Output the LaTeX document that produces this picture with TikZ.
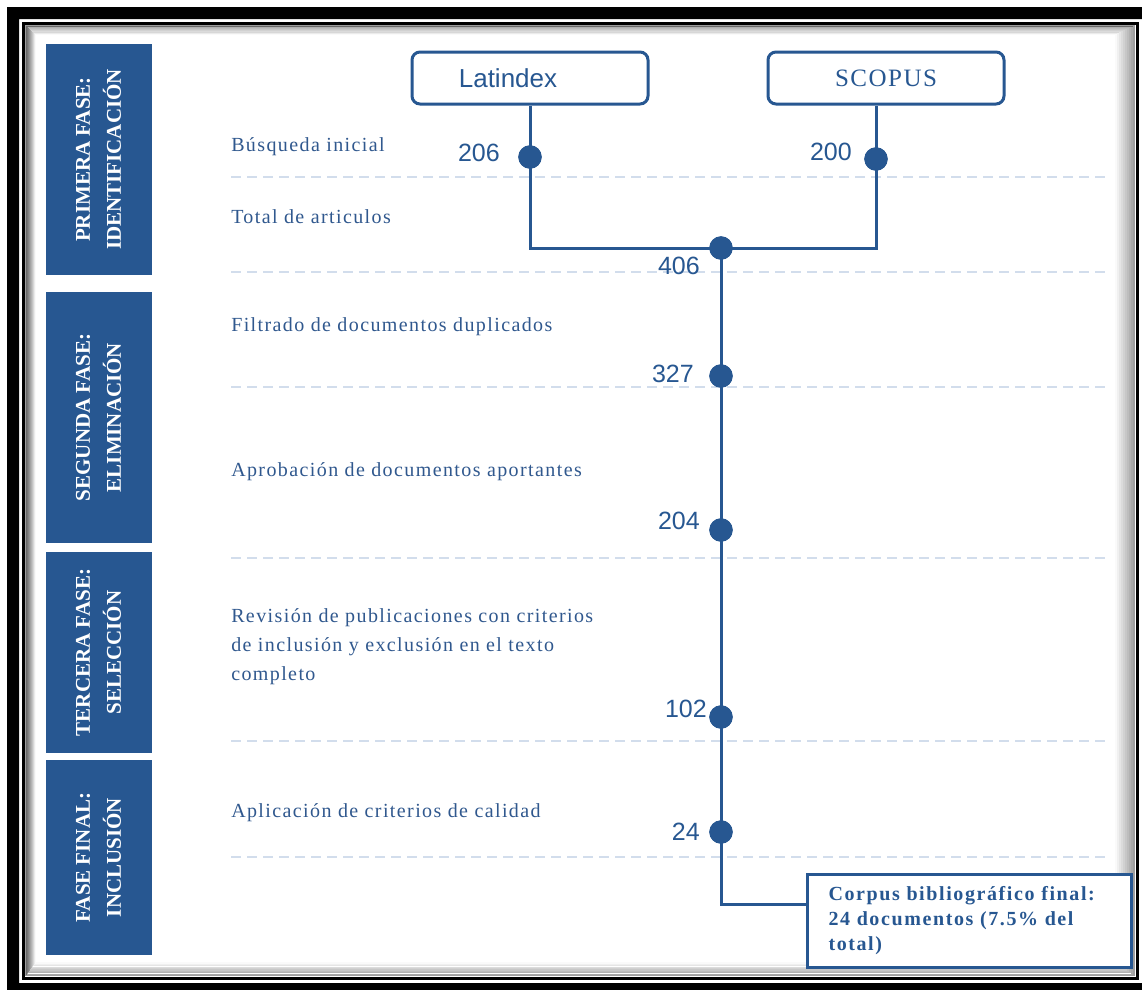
\documentclass[tikz,border=0pt]{standalone}
\usepackage{fontspec}
\setmainfont{Liberation Serif}
\newfontfamily\lsans{Liberation Sans}
\newfontfamily\spc[LetterSpace=7]{Liberation Serif}
\newfontfamily\spcb[LetterSpace=8]{Liberation Serif Bold}
\newfontfamily\spcs[LetterSpace=6]{Liberation Serif}
\definecolor{fblue}{RGB}{39,87,145}
\definecolor{tblue}{RGB}{48,88,142}
\definecolor{dgrey}{RGB}{210,221,236}
\begin{document}
\begin{tikzpicture}[x=0.75pt,y=-0.75pt,
  txt/.style={anchor=base west, inner sep=0, text=tblue, align=left,
    font=\spc\fontsize{15}{21.75}\selectfont},
  num/.style={anchor=east, inner sep=0, text=fblue,
    font=\lsans\fontsize{18.75}{20}\selectfont},
  dot/.style={circle, fill=fblue, inner sep=0, minimum size=17.5pt},
  conn/.style={draw=fblue, line width=2.25pt},
  src/.style={draw=fblue, line width=2.25pt, rounded corners=6pt, fill=white,
    minimum width=177pt, minimum height=39pt, inner sep=0},
  phasetxt/.style={rotate=90, align=center, text=white, inner sep=0,
    font=\bfseries\fontsize{15.75}{23.25}\selectfont},
  dashline/.style={draw=dgrey, line width=0.9pt, dash pattern=on 7.5pt off 4.5pt},
  finbox/.style={draw=fblue, line width=2.25pt, fill=white, anchor=north west,
    minimum width=243pt, minimum height=69.75pt, inner xsep=15.75pt, inner ysep=0,
    text width=211.5pt, align=left, text=fblue,
    font=\spcb\fontsize{15}{18.75}\selectfont}
]
\useasboundingbox (0,0) rectangle (1142,989);
\fill[white] (0,0) rectangle (1142,989);
% frame
\fill[black, even odd rule] (7,7) rectangle (1170,1010) (19,19) rectangle (1143,983);
\draw[black, line width=2.25pt] (23.5,23.5) rectangle (1137.5,978.5);
\foreach \i in {1,...,10}{
  \pgfmathsetmacro{\op}{0.42-0.04*\i}
  \draw[black, opacity=\op, line width=1pt] (25+\i,25+0.9*\i) rectangle (1136-2*\i,977-1.4*\i);
}
% phase boxes
\fill[fblue] (46,44) rectangle (152,275);
\fill[fblue] (46,292) rectangle (152,543);
\fill[fblue] (46,552) rectangle (152,753);
\fill[fblue] (46,760) rectangle (152,955);
\node[phasetxt] (p1) at (98.5,159.5) {PRIMERA FASE:\\IDENTIFICACIÓN};
\node[phasetxt] (p2) at (98.5,417.5) {SEGUNDA FASE:\\ELIMINACIÓN};
\node[phasetxt] (p3) at (98.5,652.5) {TERCERA FASE:\\SELECCIÓN};
\node[phasetxt] (p4) at (98.5,857.5) {FASE FINAL:\\INCLUSIÓN};
% dashed separators
\foreach \yy in {177,272,387,558,741,857}{
  \draw[dashline] (231,\yy) -- (1107,\yy);
}
% step texts
\node[txt] (t1) at (231,151) {Búsqueda inicial};
\node[txt] (t2) at (231,223) {Total de articulos};
\node[txt] (t3) at (231,331) {Filtrado de documentos duplicados};
\node[txt] (t4) at (231,476) {Aprobación de documentos aportantes};
\node[txt] (t5) at (231,680) {Revisión de publicaciones con criterios\\de inclusión y exclusión en el texto\\completo};
\node[txt] (t6) at (231,817) {Aplicación de criterios de calidad};
% sources
\node[src, font=\lsans\fontsize{19.5}{22}\selectfont, text=fblue] (lat) at (530,78) {Latindex\hspace*{33pt}};
\node[src, font=\spcs\fontsize{18.75}{22}\selectfont, text=fblue] (sco) at (886,78) {SCOPUS};
% dots
\node[dot] (d206) at (530,157) {};
\node[dot] (d200) at (876,159) {};
\node[dot] (d406) at (721,248) {};
\node[dot] (d327) at (721,376) {};
\node[dot] (d204) at (721,530) {};
\node[dot] (d102) at (721,717) {};
\node[dot] (d24) at (721,832) {};
\coordinate (turn) at (721,904);
% final box
\node[finbox] (fin) at (806,873) {Corpus bibliográfico final:\\24 documentos (7.5\% del\\total)};
% connectors
\draw[conn] (lat.south) -- (d206.center) -- (d206.center |- d406.center) -- (d200.center |- d406.center) -- (d200.center) -- (d200.center |- sco.south);
\draw[conn] (d406.center) -- (turn) -- (turn -| fin.west);
% redraw dots on top
\foreach \d in {d206,d200,d406,d327,d204,d102,d24}{
  \fill[fblue] (\d.center) circle (8.75pt);
}
% numbers
\node[num] (n206) at (500,153) {206};
\node[num] (n200) at (852,152) {200};
\node[num] (n406) at (700,266) {406};
\node[num] (n327) at (694,374) {327};
\node[num] (n204) at (700,521) {204};
\node[num] (n102) at (707,709) {102};
\node[num] (n24) at (700,832) {24};
\end{tikzpicture}
\end{document}
